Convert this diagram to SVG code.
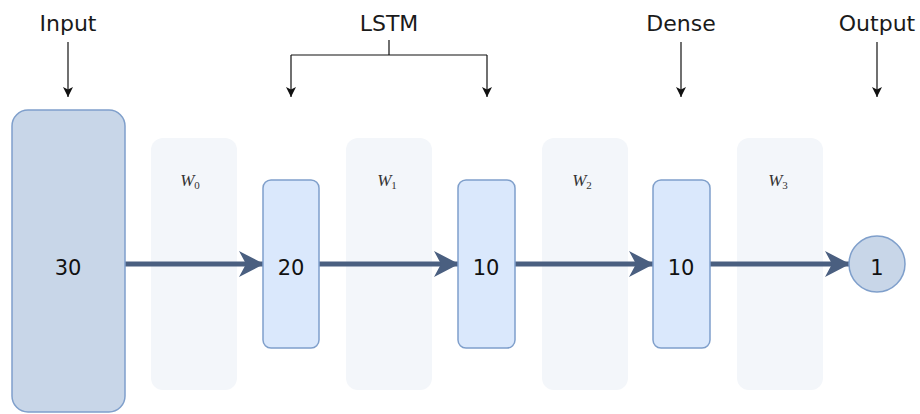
<svg xmlns="http://www.w3.org/2000/svg" width="920" height="414" viewBox="0 0 920 414">
<defs>
<style>
.lbl{font-family:"DejaVu Sans",Verdana,sans-serif;font-size:22px;fill:#1a1a1a;text-anchor:middle}
.num{font-family:"DejaVu Sans",Verdana,sans-serif;font-size:21px;fill:#111;text-anchor:middle}
.w{font-family:"Liberation Serif","DejaVu Serif",serif;font-style:italic;font-size:17px;fill:#333;text-anchor:middle}
.sub{font-size:11px;font-style:normal}
.panel{fill:#f3f6fa;stroke:none}
.node{fill:#dae8fc;stroke:#7f9fcb;stroke-width:1.5}
.inp{fill:#c8d6e8;stroke:#7f9fcb;stroke-width:1.5}
.flow{stroke:#4a5f80;stroke-width:5;fill:none}
.thin{stroke:#111;stroke-width:1.2;fill:none}
</style>
<marker id="big" viewBox="0 0 26 26" refX="24" refY="13" markerWidth="26" markerHeight="26" markerUnits="userSpaceOnUse" orient="auto">
<path d="M0,0 L25,13 L0,26 L7,13 Z" fill="#4a5f80"/>
</marker>
<marker id="small" viewBox="0 0 10 10" refX="10" refY="5" markerWidth="10" markerHeight="10" markerUnits="userSpaceOnUse" orient="auto">
<path d="M0,0 L10,5 L0,10 L2.5,5 Z" fill="#111"/>
</marker>
</defs>
<rect width="920" height="414" fill="#ffffff"/>
<g id="panels">
<g id="panel-w0"><rect class="panel" x="151" y="138" width="86" height="252" rx="12"/><text class="w" x="190" y="186">W<tspan class="sub" dy="3">0</tspan></text></g>
<g id="panel-w1"><rect class="panel" x="346" y="138" width="86" height="252" rx="12"/><text class="w" x="387" y="186">W<tspan class="sub" dy="3">1</tspan></text></g>
<g id="panel-w2"><rect class="panel" x="542" y="138" width="86" height="252" rx="12"/><text class="w" x="582" y="186">W<tspan class="sub" dy="3">2</tspan></text></g>
<g id="panel-w3"><rect class="panel" x="737" y="138" width="86" height="252" rx="12"/><text class="w" x="778" y="186">W<tspan class="sub" dy="3">3</tspan></text></g>
</g>
<g id="connectors">
<line class="flow" x1="125" y1="264" x2="263" y2="264" marker-end="url(#big)"/>
<line class="flow" x1="319" y1="264" x2="458" y2="264" marker-end="url(#big)"/>
<line class="flow" x1="515" y1="264" x2="653" y2="264" marker-end="url(#big)"/>
<line class="flow" x1="710" y1="264" x2="849" y2="264" marker-end="url(#big)"/>
<line class="thin" x1="68" y1="42" x2="68" y2="97" marker-end="url(#small)"/>
<path class="thin" d="M389,40 L389,55 M291,55 L487,55"/>
<line class="thin" x1="291" y1="55" x2="291" y2="97" marker-end="url(#small)"/>
<line class="thin" x1="487" y1="55" x2="487" y2="97" marker-end="url(#small)"/>
<line class="thin" x1="681" y1="42" x2="681" y2="97" marker-end="url(#small)"/>
<line class="thin" x1="877" y1="42" x2="877" y2="97" marker-end="url(#small)"/>
</g>
<g id="input"><rect class="inp" x="12" y="110" width="113" height="302" rx="16"/><text class="num" x="68" y="275">30</text></g>
<g id="lstm1"><rect class="node" x="263" y="180" width="56" height="168" rx="8"/><text class="num" x="291" y="275">20</text></g>
<g id="lstm2"><rect class="node" x="458" y="180" width="57" height="168" rx="8"/><text class="num" x="486" y="275">10</text></g>
<g id="dense"><rect class="node" x="653" y="180" width="57" height="168" rx="8"/><text class="num" x="681" y="275">10</text></g>
<g id="output"><circle cx="877" cy="264" r="28" fill="#c8d6e8" stroke="#7f9fcb" stroke-width="1.5"/><text class="num" x="877" y="275">1</text></g>
<g id="labels">
<text class="lbl" x="68" y="31">Input</text>
<text class="lbl" x="389" y="31">LSTM</text>
<text class="lbl" x="681" y="31">Dense</text>
<text class="lbl" x="877" y="31">Output</text>
</g>
</svg>
